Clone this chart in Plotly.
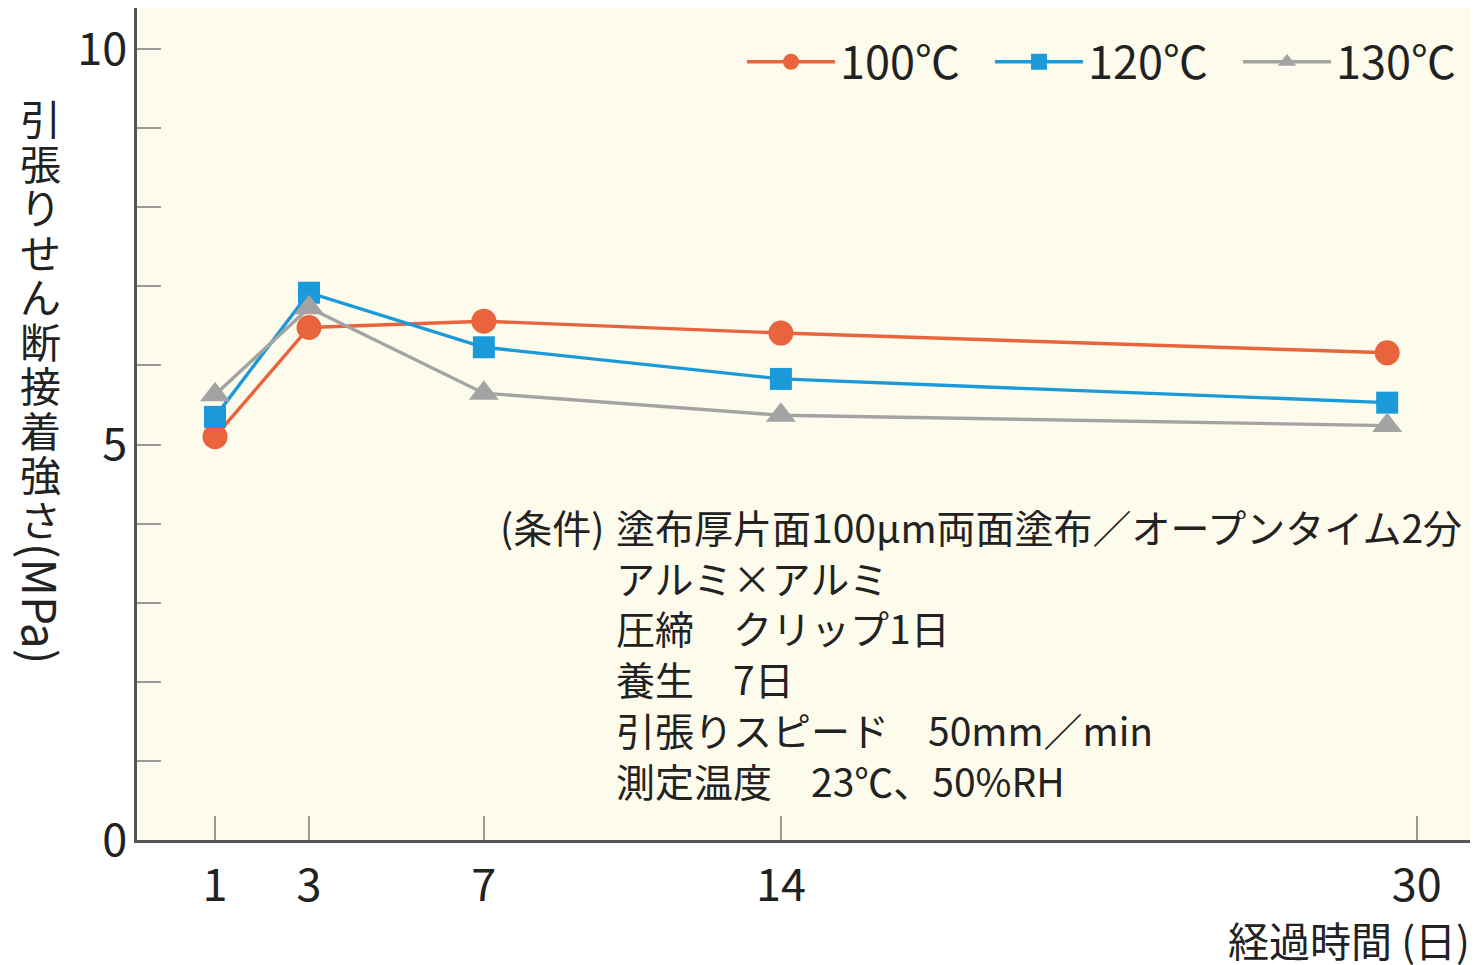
import plotly.graph_objects as go

# ---- data ----
days = [1, 3, 7, 14, 30]
tick_labels = ["1", "3", "7", "14", "30"]
# the original chart uses an irregular horizontal scale: axis position of each day
tick_pos = [1.0, 3.0, 6.72, 13.04, 26.57]
point_pos = [1.0, 3.0, 6.72, 13.04, 25.94]

series_names = ["100℃", "120℃", "130℃"]
s100 = [5.10, 6.48, 6.56, 6.41, 6.16]
s120 = [5.35, 6.92, 6.23, 5.83, 5.53]
s130 = [5.63, 6.73, 5.65, 5.37, 5.24]

y_ticks = [0, 1, 2, 3, 4, 5, 6, 7, 8, 9, 10]
y_labels = ["0", "", "", "", "", "5", "", "", "", "", "10"]

y_title_chars = ["引", "張", "り", "せ", "ん", "断", "接", "着", "強", "さ"]
y_title_unit = "(MPa)"
x_title = "経過時間 (日)"
cond_head = "(条件)"
cond_lines = [
    "塗布厚片面100μm両面塗布／オープンタイム2分",
    "アルミ×アルミ",
    "圧締　クリップ1日",
    "養生　7日",
    "引張りスピード　50mm／min",
    "測定温度　23℃、50%RH",
]

# ---- styling ----
FONT = "Noto Sans CJK JP"
OFF = 8  # page body margin offset
W, H = 1478, 965
L, R, T, B = 137 - OFF, 0, 0, 965 - 840 + OFF
PW, PH = W - L - R, H - T - B

def px(sx):
    return (sx - OFF - L) / PW

def py(sy):
    return (H - B - (sy - OFF)) / PH

colors = ["#E9643C", "#1A9AD8", "#A3A3A3"]
symbols = ["circle", "square", "triangle-up"]
sizes = [25, 22, 26]

fig = go.Figure()
for name, vals, c, s, sz in zip(series_names, [s100, s120, s130], colors, symbols, sizes):
    fig.add_trace(go.Scatter(
        x=point_pos, y=vals, name=name, mode="lines+markers",
        line=dict(color=c, width=3.4),
        marker=dict(symbol=s, size=sz, color=c, line=dict(width=0)),
    ))

fig.update_layout(
    width=W, height=H,
    margin=dict(l=L, r=R, t=T, b=B, pad=0),
    paper_bgcolor="white",
    plot_bgcolor="#FDFBEC",
    font=dict(family=FONT, color="#222222", size=40),
    showlegend=True,
    legend=dict(
        orientation="h",
        x=1, xanchor="right",
        y=py(26), yanchor="top",
        bgcolor="rgba(0,0,0,0)",
        font=dict(family=FONT, size=45, color="#222222"),
        itemwidth=88,
        entrywidth=145,
        entrywidthmode="pixels",
        traceorder="normal",
    ),
)

fig.update_xaxes(
    range=[-0.66, 1 + (1486 - 215) / 47],
    tickmode="array", tickvals=tick_pos, ticktext=tick_labels,
    ticks="inside", ticklen=24, tickwidth=1.5, tickcolor="#9A9A9A",
    showline=True, linecolor="#555555", linewidth=2.5,
    showgrid=False, zeroline=False,
    tickfont=dict(family=FONT, size=45, color="#222222"),
    ticklabelstandoff=4,
)
fig.update_yaxes(
    range=[0, 10.52],
    tickmode="array", tickvals=y_ticks, ticktext=y_labels,
    ticks="inside", ticklen=24, tickwidth=1.5, tickcolor="#9A9A9A",
    showline=True, linecolor="#555555", linewidth=2.5,
    showgrid=False, zeroline=False,
    tickfont=dict(family=FONT, size=45, color="#222222"),
    ticklabelstandoff=-2,
)

# vertical y-axis title: upright CJK characters stacked, then rotated "(MPa)"
for i, ch in enumerate(y_title_chars):
    fig.add_annotation(
        text=ch, xref="paper", yref="paper",
        x=px(40), y=py(117 + 44.5 * i), xanchor="center", yanchor="middle",
        showarrow=False, font=dict(family=FONT, size=41, color="#222222"),
    )
fig.add_annotation(
    text=y_title_unit, xref="paper", yref="paper",
    x=px(42), y=py(603), xanchor="center", yanchor="middle",
    textangle=90, showarrow=False, font=dict(family=FONT, size=46, color="#222222"),
)

# x-axis title
fig.add_annotation(
    text=x_title, xref="paper", yref="paper",
    x=px(1472), y=py(939), xanchor="right", yanchor="middle",
    showarrow=False, font=dict(family=FONT, size=41, color="#222222"),
)

# conditions block
fig.add_annotation(
    text=cond_head, xref="paper", yref="paper",
    x=px(606), y=py(526), xanchor="right", yanchor="middle",
    showarrow=False, font=dict(family=FONT, size=39, color="#222222"),
)
fig.add_annotation(
    text="<br>".join(cond_lines), xref="paper", yref="paper",
    x=px(614), y=py(496), xanchor="left", yanchor="top", align="left",
    showarrow=False, font=dict(family=FONT, size=39, color="#222222"),
)

fig.write_html("out.html")
